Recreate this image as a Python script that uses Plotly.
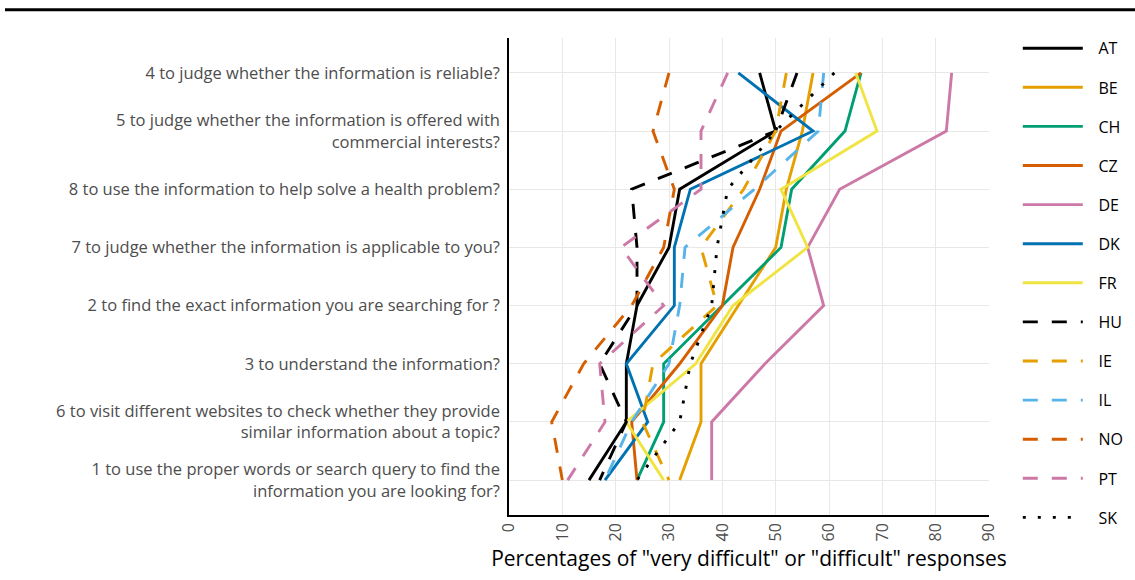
import plotly.graph_objects as go

# Survey items, listed from the top row of the chart to the bottom row
questions = [
    "4 to judge whether the information is reliable?",
    "5 to judge whether the information is offered with<br>commercial interests?",
    "8 to use the information to help solve a health problem?",
    "7 to judge whether the information is applicable to you?",
    "2 to find the exact information you are searching for ?",
    "3 to understand the information?",
    "6 to visit different websites to check whether they provide<br>similar information about a topic?",
    "1 to use the proper words or search query to find the<br>information you are looking for?",
]

# Percentage of "very difficult" or "difficult" responses, same order as questions
AT = [47, 50, 32, 30, 24, 22, 22, 15]
BE = [57, 55, 52, 50, 43, 36, 36, 32]
CH = [66, 63, 53, 51, 40, 29, 29, 24]
CZ = [66, 51, 47, 42, 40, 32, 23, 24]
DE = [83, 82, 62, 56, 59, 48, 38, 38]
DK = [43, 57, 34, 31, 31, 22, 26, 18]
FR = [65, 69, 51, 56, 42, 35, 22, 29]
HU = [54, 50, 23, 24, 24, 17, 22, 17]
IE = [52, 50, 44, 36, 39, 27, 25, 30]
IL = [59, 58, 46, 33, 32, 30, 23, 18]
NO = [30, 27, 31, 29, 23, 14, 8, 10]
PT = [41, 36, 36, 21, 29, 17, 18, 11]
SK = [61, 50, 41, 39, 38, 34, 32, 24]

countries = ["AT", "BE", "CH", "CZ", "DE", "DK", "FR", "HU", "IE", "IL", "NO", "PT", "SK"]
series = [AT, BE, CH, CZ, DE, DK, FR, HU, IE, IL, NO, PT, SK]

x_ticks = [0, 10, 20, 30, 40, 50, 60, 70, 80, 90]

colors = {
    "AT": "#000000", "BE": "#E69F00", "CH": "#009E73", "CZ": "#D55E00",
    "DE": "#CC79A7", "DK": "#0072B2", "FR": "#F0E442", "HU": "#000000",
    "IE": "#E69F00", "IL": "#56B4E9", "NO": "#D55E00", "PT": "#CC79A7",
    "SK": "#000000",
}
DASHED = "15px,14px"
DOTTED = "3px,12px"
dashes = {
    "AT": "solid", "BE": "solid", "CH": "solid", "CZ": "solid", "DE": "solid",
    "DK": "solid", "FR": "solid", "HU": DASHED, "IE": DASHED, "IL": DASHED,
    "NO": DASHED, "PT": DASHED, "SK": DOTTED,
}

font_family = "Open Sans, Noto Sans, DejaVu Sans, sans-serif"

fig = go.Figure()
for name, vals in zip(countries, series):
    fig.add_trace(go.Scatter(
        x=vals,
        y=questions,
        mode="lines",
        # a little leading space separates the key line from its label
        name="\u2002\u2009" + name,
        legendgroup=name,
        line=dict(color=colors[name], width=2.9, dash=dashes[name]),
        hovertemplate="%{x}%<extra>" + name + "</extra>",
    ))

fig.update_layout(
    width=1135,
    height=580,
    margin=dict(l=509, r=146, t=38, b=65, autoexpand=False),
    paper_bgcolor="white",
    plot_bgcolor="white",
    font=dict(family=font_family, size=16, color="#4d4d4d"),
    showlegend=True,
    legend=dict(
        x=1.06, xanchor="left",
        yref="container",
        y=0.946, yanchor="top",
        maxheight=1,
        tracegroupgap=15.3,
        itemwidth=60,
        font=dict(size=16, color="#000000", family=font_family),
        bgcolor="rgba(0,0,0,0)",
    ),
    xaxis=dict(
        range=[0, 90],
        tickvals=x_ticks,
        tickangle=-90,
        tickfont=dict(size=16, color="#4d4d4d"),
        showgrid=True,
        gridcolor="#e8e8e8",
        gridwidth=1.2,
        zeroline=False,
        showline=True,
        linecolor="black",
        linewidth=1.5,
        ticks="",
        automargin=False,
        title=dict(
            text='Percentages of "very difficult" or "difficult" responses',
            font=dict(size=21, color="#000000"),
            standoff=11,
        ),
    ),
    yaxis=dict(
        type="category",
        categoryorder="array",
        categoryarray=list(reversed(questions)),
        range=[-0.6, 7.6],
        showgrid=True,
        gridcolor="#e8e8e8",
        gridwidth=1.2,
        zeroline=False,
        showline=True,
        linecolor="black",
        linewidth=1.5,
        ticks="outside",
        ticklen=4,
        tickcolor="rgba(0,0,0,0)",
        tickfont=dict(size=16.5, color="#4d4d4d"),
        automargin=False,
    ),
    shapes=[
        dict(
            type="line", xref="paper", yref="paper",
            x0=-1.05, x1=1.31, y0=1.059, y1=1.059,
            line=dict(color="black", width=3),
        )
    ],
)

fig.write_html("out.html")
